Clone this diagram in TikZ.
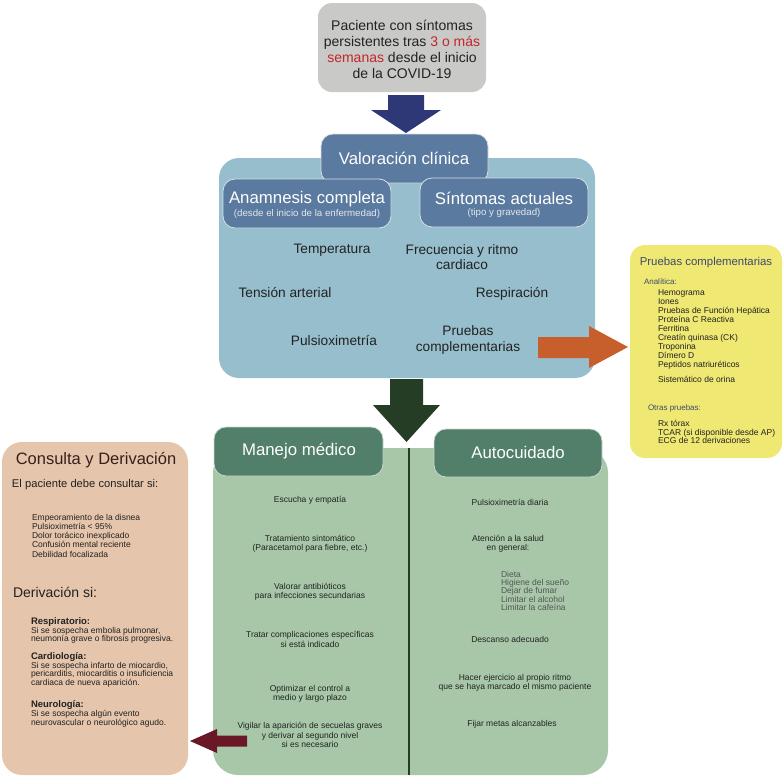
\documentclass[tikz,border=0pt]{standalone}
\usepackage{fontspec}
\setmainfont{Liberation Sans}
\newcommand\fsz[2]{\fontsize{#1}{#2}\selectfont}
\definecolor{grayfill}{HTML}{C9C9C7}
\definecolor{redtxt}{HTML}{C4262B}
\definecolor{navy}{HTML}{2F3877}
\definecolor{slate}{HTML}{5B7AA0}
\definecolor{lblue}{HTML}{96BECC}
\definecolor{orng}{HTML}{C65F2B}
\definecolor{yell}{HTML}{EFE873}
\definecolor{ytitle}{HTML}{3E4A6E}
\definecolor{dgreen}{HTML}{263D25}
\definecolor{mgreen}{HTML}{517F6A}
\definecolor{lgreen}{HTML}{A7C7A8}
\definecolor{peach}{HTML}{E5C5AB}
\definecolor{maroon}{HTML}{6A1827}
\definecolor{brown}{HTML}{3A1E1E}
\definecolor{txtdark}{HTML}{222222}
\definecolor{subtxt}{HTML}{E2E6EE}
\definecolor{graytxt}{HTML}{555555}
\begin{document}
\begin{tikzpicture}[x=1pt,y=-1pt,
  every node/.style={inner sep=0pt,outer sep=0pt},
  rbox/.style={anchor=north west,rectangle,rounded corners=12pt},
  hdrbox/.style={rbox,draw=white!75!slate,line width=0.8pt},
  ghdrbox/.style={rbox,fill=mgreen,draw=white!70!mgreen,line width=0.8pt},
  ttop/.style={font=\fsz{14}{16},text=txtdark,align=center},
  hdr/.style={font=\fsz{16.8}{18},text=white},
  hsub/.style={font=\fsz{9.7}{11},text=subtxt},
  body/.style={font=\fsz{13.7}{15.5},text=txtdark,align=center},
  sm/.style={font=\fsz{8.5}{9.4},text=txtdark,align=center},
  smL/.style={font=\fsz{8.5}{9},text=txtdark,anchor=base west},
  smB/.style={font=\fsz{9.5}{10}\bfseries,text=txtdark,anchor=base west}]
\useasboundingbox (0,0) rectangle (784,780);

% ---------- top box ----------
\node[rbox,fill=grayfill,rounded corners=14pt,minimum width=168pt,minimum height=89pt] (top) at (318,3) {};
\node[ttop] (toptxt) at (402,49) {Paciente con síntomas\\persistentes tras \textcolor{redtxt}{3 o más}\\\textcolor{redtxt}{semanas} desde el inicio\\de la COVID-19};

% navy arrow
\fill[navy] (388,95) -- (424,95) -- (424,110) -- (441,110) -- (406,133) -- (371,110) -- (388,110) -- cycle;

% ---------- valoracion clinica ----------
\node[rbox,fill=lblue,rounded corners=20pt,minimum width=376pt,minimum height=220pt] (blue) at (219,158) {};
\node[hdrbox,fill=slate,minimum width=167pt,minimum height=49pt] (val) at (321,134) {};
\node[hdr] (valtxt) at (404,158) {Valoración clínica};
\node[hdrbox,fill=slate,minimum width=168pt,minimum height=49pt] (anam) at (223,179) {};
\node[hdr] (anamtxt) at (307,199) {Anamnesis completa};
\node[hsub] (anamsub) at (307,214) {(desde el inicio de la enfermedad)};
\node[hdrbox,fill=slate,minimum width=168pt,minimum height=49pt] (sint) at (420,178) {};
\node[hdr] (sinttxt) at (504,198) {Síntomas actuales};
\node[hsub] (sintsub) at (504,213) {(tipo y gravedad)};

\node[body] (temp) at (332,250) {Temperatura};
\node[body] (frec) at (462,257) {Frecuencia y ritmo\\cardiaco};
\node[body] (tens) at (285,293) {Tensión arterial};
\node[body] (resp) at (512,294) {Respiración};
\node[body] (puls) at (334,341) {Pulsioximetría};
\node[body] (prue) at (468,340) {Pruebas\\complementarias};

% orange arrow
\fill[orng] (538,337) -- (589,337) -- (589,326) -- (628,347) -- (589,368) -- (589,358) -- (538,358) -- cycle;

% ---------- yellow box ----------
\node[rbox,fill=yell,rounded corners=15pt,minimum width=152pt,minimum height=213pt] (yel) at (630,245) {};
\node[font=\fsz{11.4}{13},text=ytitle] (yt) at (706,263) {Pruebas complementarias};
\node[font=\fsz{8}{9},text=ytitle,anchor=base west] (ya) at (644,284) {Analítica:};
\foreach \t [count=\i] in {Hemograma,Iones,Pruebas de Función Hepática,Proteína C Reactiva,Ferritina,Creatín quinasa (CK),Troponina,Dímero D,Peptidos natriuréticos}
  \node[smL] (yl\i) at (658,{286+9.05*\i}) {\t};
\node[smL] (yorina) at (658,382) {Sistemático de orina};
\node[font=\fsz{8}{9},text=ytitle,anchor=base west] (yo) at (648,410) {Otras pruebas:};
\node[smL] (yo1) at (658,426) {Rx tórax};
\node[smL] (yo2) at (658,435) {TCAR (si disponible desde AP)};
\node[smL] (yo3) at (658,443.5) {ECG de 12 derivaciones};

% ---------- green area ----------
\fill[dgreen] (390,379) -- (423,379) -- (423,405) -- (440,405) -- (406.5,442) -- (373,405) -- (390,405) -- cycle;
\node[rbox,fill=lgreen,rounded corners=25pt,minimum width=395pt,minimum height=327pt] (green) at (213,448) {};
\coordinate (divtop) at (409,448);
\coordinate (divbot) at (409,775);
\draw[dgreen,line width=2pt] (divtop) -- (divbot);
\node[ghdrbox,minimum width=169pt,minimum height=49pt] (man) at (214,427) {};
\node[hdr] (mantxt) at (299,451) {Manejo médico};
\node[ghdrbox,minimum width=168pt,minimum height=48pt] (auto) at (434,429) {};
\node[hdr] (autotxt) at (518,452) {Autocuidado};

\node[sm] (m1) at (310,500) {Escucha y empatía};
\node[sm] (m2) at (310,543.5) {Tratamiento sintomático\\(Paracetamol para fiebre, etc.)};
\node[sm] (m3) at (310,592) {Valorar antibióticos\\para infecciones secundarias};
\node[sm] (m4) at (310,639.5) {Tratar complicaciones específicas\\si está indicado};
\node[sm] (m5) at (310,693.5) {Optimizar el control a\\medio y largo plazo};
\node[sm] (m6) at (310,735) {Vigilar la aparición de secuelas graves\\y derivar al segundo nivel\\si es necesario};

\node[sm] (a1) at (510,502) {Pulsioximetría diaria};
\node[sm] (a2) at (508,543.5) {Atención a la salud\\en general:};
\foreach \t [count=\i] in {Dieta,Higiene del sueño,Dejar de fumar,Limitar el alcohol,Limitar la cafeína}
  \node[smL,text=graytxt] (al\i) at (501,{569+8.3*\i}) {\t};
\node[sm] (a3) at (510,639) {Descanso adecuado};
\node[sm] (a4) at (515,682.5) {Hacer ejercicio al propio ritmo\\que se haya marcado el mismo paciente};
\node[sm] (a5) at (512,724) {Fijar metas alcanzables};

% ---------- consulta y derivacion ----------
\node[rbox,fill=peach,rounded corners=20pt,minimum width=186pt,minimum height=333pt] (cons) at (2,442) {};
\node[font=\fsz{16.5}{18},text=brown] (constxt) at (96,460) {Consulta y Derivación};
\node[font=\fsz{11.2}{13},text=txtdark,anchor=base west] (c1) at (12,487) {El paciente debe consultar si:};
\foreach \t [count=\i] in {Empeoramiento de la disnea,Pulsioximetría < 95\%,Dolor torácico inexplicado,Confusión mental reciente,Debilidad focalizada}
  \node[smL] (cl\i) at (32,{511+9.2*\i}) {\t};
\node[font=\fsz{14}{16},text=txtdark,anchor=base west] (der) at (13,597) {Derivación si:};
\node[smB] (r0) at (31,624.5) {Respiratorio:};
\node[smL] (r1) at (31,633) {Si se sospecha embolia pulmonar,};
\node[smL] (r2) at (31,641.5) {neumonía grave o fibrosis progresiva.};
\node[smB] (k0) at (31,659.5) {Cardiología:};
\node[smL] (k1) at (31,668) {Si se sospecha infarto de miocardio,};
\node[smL] (k2) at (31,676.5) {pericarditis, miocarditis o insuficiencia};
\node[smL] (k3) at (31,685) {cardiaca de nueva aparición.};
\node[smB] (n0) at (31,707) {Neurología:};
\node[smL] (n1) at (31,716.5) {Si se sospecha algún evento};
\node[smL] (n2) at (31,725) {neurovascular o neurológico agudo.};

% maroon arrow
\fill[maroon] (247,735.5) -- (217,735.5) -- (217,729) -- (190,741) -- (217,753) -- (217,746.5) -- (247,746.5) -- cycle;
\end{tikzpicture}
\end{document}
